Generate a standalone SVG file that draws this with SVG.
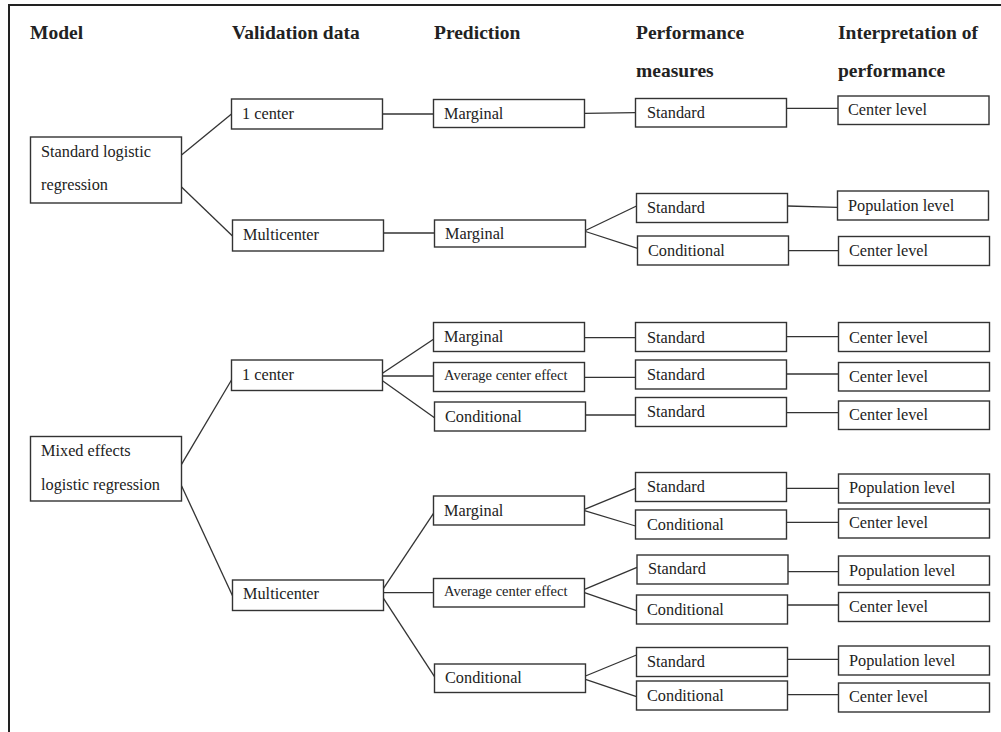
<svg xmlns="http://www.w3.org/2000/svg" width="1001" height="732" viewBox="0 0 1001 732">
<style>
.frame{fill:none;stroke:#222;stroke-width:2}
rect.box{fill:#fff;stroke:#333;stroke-width:1.4}
.conn line{stroke:#333;stroke-width:1.3}
text{font-family:"Liberation Serif","DejaVu Serif",serif;fill:#222}
.h{font-weight:bold;font-size:19.5px}
.t{font-size:16.3px}
.s{font-size:14.5px}
</style>
<rect width="1001" height="732" fill="#fff"/>
<path class="frame" d="M9,732 V5 H1001"/>
<g id="headers">
<text class="h" x="30" y="39">Model</text>
<text class="h" x="232" y="39">Validation data</text>
<text class="h" x="434" y="39">Prediction</text>
<text class="h" x="636" y="39">Performance</text>
<text class="h" x="636" y="77">measures</text>
<text class="h" x="838" y="39">Interpretation of</text>
<text class="h" x="838" y="77">performance</text>
</g>
<g class="conn" id="connectors">
<line x1="181.5" y1="155" x2="231.5" y2="114"/>
<line x1="181.5" y1="187" x2="232.5" y2="236"/>
<line x1="382.5" y1="114" x2="433.5" y2="114"/>
<line x1="383.5" y1="233" x2="434.5" y2="233"/>
<line x1="584.5" y1="113.3" x2="635.5" y2="112.7"/>
<line x1="786.5" y1="108.3" x2="838" y2="108.3"/>
<line x1="585.5" y1="230.5" x2="636.5" y2="206"/>
<line x1="585.5" y1="231.5" x2="637.5" y2="248.3"/>
<line x1="787.5" y1="206" x2="837.5" y2="207.3"/>
<line x1="788.5" y1="250.7" x2="838.5" y2="250.7"/>
<line x1="181.5" y1="464.3" x2="231.5" y2="380"/>
<line x1="181.5" y1="485.7" x2="232.5" y2="595.7"/>
<line x1="382.5" y1="373.3" x2="433.5" y2="339.3"/>
<line x1="382.5" y1="376" x2="433.5" y2="376"/>
<line x1="382.5" y1="380.7" x2="434.5" y2="417.7"/>
<line x1="383.5" y1="588.3" x2="433.5" y2="513.3"/>
<line x1="383.5" y1="592.7" x2="433.5" y2="592.7"/>
<line x1="383.5" y1="598.3" x2="434.5" y2="676.7"/>
<line x1="584.5" y1="337.7" x2="635.5" y2="337.7"/>
<line x1="584.5" y1="377.3" x2="635.5" y2="377.3"/>
<line x1="585.5" y1="415" x2="635.5" y2="415"/>
<line x1="786.5" y1="336.7" x2="838.5" y2="336.7"/>
<line x1="786.5" y1="374" x2="838.5" y2="374"/>
<line x1="786.5" y1="412.7" x2="838.5" y2="412.7"/>
<line x1="584.5" y1="509.3" x2="635.5" y2="488.3"/>
<line x1="584.5" y1="510.7" x2="635.5" y2="526"/>
<line x1="584.5" y1="589.3" x2="637" y2="567.3"/>
<line x1="584.5" y1="592.7" x2="636.5" y2="610.7"/>
<line x1="585.5" y1="676" x2="636.5" y2="655"/>
<line x1="585.5" y1="679.3" x2="636.5" y2="696.7"/>
<line x1="786.5" y1="488.3" x2="838.5" y2="488.3"/>
<line x1="786.5" y1="522.3" x2="838.5" y2="522.3"/>
<line x1="788" y1="571.7" x2="838.5" y2="571.7"/>
<line x1="787.5" y1="605" x2="838.5" y2="605"/>
<line x1="787.5" y1="659.3" x2="838.5" y2="659.3"/>
<line x1="787.5" y1="694.7" x2="838.5" y2="694.7"/>
</g>
<g id="m1"><rect class="box" x="30.5" y="137" width="151" height="66"/><text class="t" x="41" y="157">Standard logistic</text><text class="t" x="41" y="190">regression</text></g>
<g id="v1"><rect class="box" x="231.5" y="99" width="151" height="30"/><text class="t" x="242" y="119">1 center</text></g>
<g id="v2"><rect class="box" x="232.5" y="220" width="151" height="31"/><text class="t" x="243" y="240">Multicenter</text></g>
<g id="p1"><rect class="box" x="433.5" y="99.5" width="151" height="28"/><text class="t" x="444" y="119">Marginal</text></g>
<g id="p2"><rect class="box" x="434.5" y="220" width="151" height="27"/><text class="t" x="445" y="239">Marginal</text></g>
<g id="pm1"><rect class="box" x="635.5" y="98.5" width="151" height="28.5"/><text class="t" x="647" y="118">Standard</text></g>
<g id="i1"><rect class="box" x="838" y="96" width="151" height="28.5"/><text class="t" x="848" y="115">Center level</text></g>
<g id="pm2"><rect class="box" x="636.5" y="193.5" width="151" height="29"/><text class="t" x="647" y="213">Standard</text></g>
<g id="pm3"><rect class="box" x="637.5" y="236" width="151" height="29"/><text class="t" x="648" y="256">Conditional</text></g>
<g id="i2"><rect class="box" x="837.5" y="191" width="151" height="29"/><text class="t" x="848" y="211">Population level</text></g>
<g id="i3"><rect class="box" x="838.5" y="236.5" width="151" height="29"/><text class="t" x="849" y="256">Center level</text></g>
<g id="m2"><rect class="box" x="30.5" y="436.5" width="151" height="64.5"/><text class="t" x="41" y="456">Mixed effects</text><text class="t" x="41" y="490">logistic regression</text></g>
<g id="v3"><rect class="box" x="231.5" y="360" width="151" height="30.5"/><text class="t" x="242" y="380">1 center</text></g>
<g id="v4"><rect class="box" x="232.5" y="580" width="151" height="30.5"/><text class="t" x="243" y="599">Multicenter</text></g>
<g id="p3"><rect class="box" x="433.5" y="322.5" width="151" height="29"/><text class="t" x="444" y="342">Marginal</text></g>
<g id="p4"><rect class="box" x="433.5" y="362.5" width="151" height="29"/><text class="s" x="444" y="380">Average center effect</text></g>
<g id="p5"><rect class="box" x="434.5" y="402" width="151" height="29"/><text class="t" x="445" y="421.5">Conditional</text></g>
<g id="p6"><rect class="box" x="433.5" y="496" width="151" height="29"/><text class="t" x="444" y="516">Marginal</text></g>
<g id="p7"><rect class="box" x="433.5" y="578.5" width="151" height="28.5"/><text class="s" x="444" y="596">Average center effect</text></g>
<g id="p8"><rect class="box" x="434.5" y="664" width="151" height="28.5"/><text class="t" x="445" y="683">Conditional</text></g>
<g id="pm4"><rect class="box" x="635.5" y="322.5" width="151" height="29"/><text class="t" x="647" y="342.5">Standard</text></g>
<g id="pm5"><rect class="box" x="635.5" y="360" width="151" height="29"/><text class="t" x="647" y="380">Standard</text></g>
<g id="pm6"><rect class="box" x="635.5" y="397.5" width="151" height="29"/><text class="t" x="647" y="417">Standard</text></g>
<g id="pm7"><rect class="box" x="635.5" y="472.5" width="151" height="29"/><text class="t" x="647" y="492">Standard</text></g>
<g id="pm8"><rect class="box" x="635.5" y="510" width="151" height="29"/><text class="t" x="647" y="530">Conditional</text></g>
<g id="pm9"><rect class="box" x="637" y="555" width="151" height="29"/><text class="t" x="648" y="574">Standard</text></g>
<g id="pm10"><rect class="box" x="636.5" y="595" width="151" height="29"/><text class="t" x="647" y="615">Conditional</text></g>
<g id="pm11"><rect class="box" x="636.5" y="647.5" width="151" height="29"/><text class="t" x="647" y="667">Standard</text></g>
<g id="pm12"><rect class="box" x="636.5" y="681" width="151" height="29"/><text class="t" x="647" y="700.5">Conditional</text></g>
<g id="i4"><rect class="box" x="838.5" y="322.5" width="151" height="29"/><text class="t" x="849" y="342.5">Center level</text></g>
<g id="i5"><rect class="box" x="838.5" y="362.5" width="151" height="28.5"/><text class="t" x="849" y="381.5">Center level</text></g>
<g id="i6"><rect class="box" x="838.5" y="401" width="151" height="28.5"/><text class="t" x="849" y="420">Center level</text></g>
<g id="i7"><rect class="box" x="838.5" y="474" width="151" height="29"/><text class="t" x="849" y="493">Population level</text></g>
<g id="i8"><rect class="box" x="838.5" y="509" width="151" height="29"/><text class="t" x="849" y="528">Center level</text></g>
<g id="i9"><rect class="box" x="838.5" y="556" width="151" height="29"/><text class="t" x="849" y="575.5">Population level</text></g>
<g id="i10"><rect class="box" x="838.5" y="592.5" width="151" height="29"/><text class="t" x="849" y="611.5">Center level</text></g>
<g id="i11"><rect class="box" x="838.5" y="646" width="151" height="29"/><text class="t" x="849" y="665.5">Population level</text></g>
<g id="i12"><rect class="box" x="838.5" y="683" width="151" height="29"/><text class="t" x="849" y="702">Center level</text></g>
</svg>
